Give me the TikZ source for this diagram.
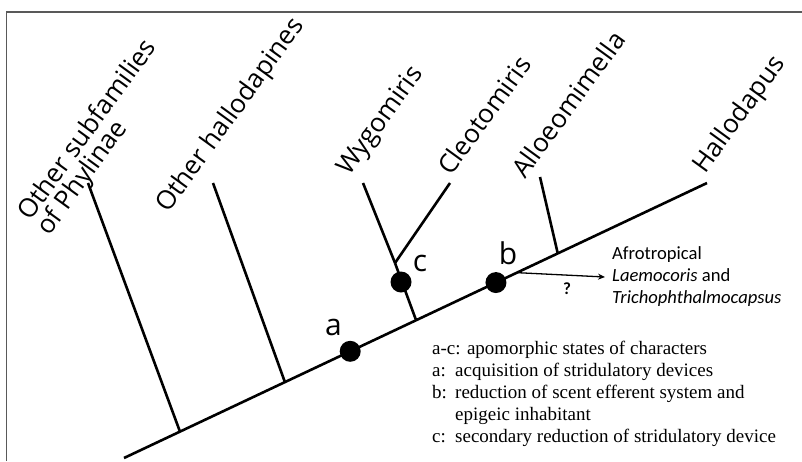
\documentclass[tikz,border=0pt]{standalone}
\usepackage{fontspec}
\setmainfont{Liberation Serif}
\newfontfamily\treefont{Open Sans}
\newfontfamily\calfont{Carlito}
\usetikzlibrary{arrows.meta,calc}
\begin{document}
\begin{tikzpicture}[x=1pt,y=-1pt,
  branch/.style={line width=2.6pt},
  blackdot/.style={circle,fill=black,inner sep=0pt,minimum size=21pt},
  taxon/.style={font=\treefont\fontsize{26}{28}\selectfont,rotate=54,anchor=base west,inner sep=0pt},
  charlabel/.style={font=\treefont\fontsize{30}{32}\selectfont,inner sep=0pt},
  frame/.style={draw=black!65,line width=1.2pt}]
\useasboundingbox (0,0) rectangle (802,461);
\draw[frame] (6.5,461) -- (6.5,12) -- (802,12);
% stem
\coordinate (root) at (124,458);
\coordinate (tipH) at (707,183);
\coordinate (j1) at ($(root)!0.096!(tipH)$);
\coordinate (j2) at ($(root)!0.276!(tipH)$);
\coordinate (jc) at ($(root)!0.501!(tipH)$);
\coordinate (jq) at ($(root)!0.674!(tipH)$);
\coordinate (jA) at ($(root)!0.744!(tipH)$);
\coordinate (t1) at (88,183);
\coordinate (t2) at (213,183);
\coordinate (cj) at (395,263);
\coordinate (tW) at (363,183);
\coordinate (tC) at (450,183);
\coordinate (tA) at (540,177);
\coordinate (q) at (605,277);
\draw[branch] (root) -- (tipH);
\draw[branch] (j1) -- (t1);
\draw[branch] (j2) -- (t2);
\draw[branch] (jc) -- (cj);
\draw[branch] (cj) -- (tW);
\draw[branch] (cj) -- (tC);
\draw[branch] (jA) -- (tA);
\node[blackdot] (a) at ($(root)!0.388!(tipH)$) {};
\node[blackdot] (b) at ($(root)!0.638!(tipH)$) {};
\node[blackdot] (c) at (401,282) {};
\node[charlabel] (la) at (333.5,327.5) {a};
\node[charlabel] (lb) at (508,253.5) {b};
\node[charlabel] (lc) at (420,263.5) {c};
% arrow
\draw[line width=1.3pt,-{Stealth[length=7pt,width=6pt]}] (jq) -- (q);
\node[font=\calfont\bfseries\fontsize{17}{18}\selectfont,inner sep=0pt] (qm) at (567,289) {?};
\node[font=\calfont\fontsize{18.6}{22}\selectfont,anchor=north west,inner sep=0pt] (afro) at (612,243.6)
  {\begin{tabular}{@{}l@{}}Afrotropical\\ \textit{Laemocoris} and\\ \textit{Trichophthalmocapsus}\end{tabular}};
% taxa
\node[taxon] (n1) at (30,222) {Other subfamilies};
\node[taxon] (n1b) at (49,237) {of Phylinae};
\node[taxon] (n2) at (168,214) {Other hallodapines};
\node[taxon] (nW) at (349,177) {Wygomiris};
\node[taxon] (nC) at (451,177) {Cleotomiris};
\node[taxon] (nA) at (525,180) {Alloeomimella};
\node[taxon] (nH) at (705,175) {Hallodapus};
% legend
\node[font=\fontsize{19}{22}\selectfont,anchor=north west,inner sep=0pt] (legend) at (432,338.6)
  {\begin{tabular}{@{}p{23pt}@{}l@{}}
   \multicolumn{2}{@{}l@{}}{a-c: apomorphic states of characters}\\
   a: & acquisition of stridulatory devices\\
   b: & reduction of scent efferent system and\\
      & epigeic inhabitant\\
   c: & secondary reduction of stridulatory device
   \end{tabular}};
\end{tikzpicture}
\end{document}
